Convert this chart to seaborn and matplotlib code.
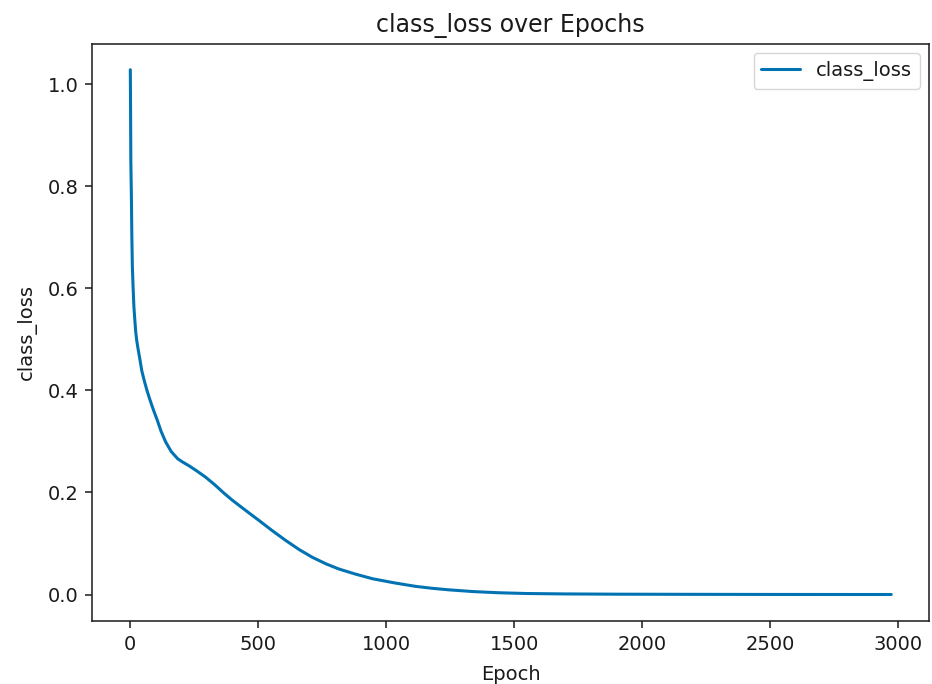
import matplotlib
matplotlib.use("Agg")
import matplotlib.pyplot as plt
import seaborn as sns

# values
epochs = [0, 1, 2, 4, 6, 8, 11, 14, 18, 21, 25, 30, 37, 45, 55, 65, 75, 90,
          105, 120, 138, 160, 185, 203, 230, 260, 294, 330, 365, 398, 450,
          503, 555, 607, 660, 711, 765, 815, 880, 946, 1030, 1115, 1180, 1245,
          1340, 1440, 1550, 1700, 1900, 2200, 2500, 2800, 2973]
class_loss = [1.028, 0.95, 0.85, 0.786, 0.70, 0.642, 0.60, 0.564, 0.535, 0.515,
              0.498, 0.482, 0.462, 0.438, 0.418, 0.400, 0.384, 0.362, 0.342,
              0.320, 0.299, 0.280, 0.266, 0.260, 0.252, 0.242, 0.230, 0.215,
              0.199, 0.185, 0.165, 0.145, 0.125, 0.106, 0.088, 0.073, 0.060,
              0.050, 0.040, 0.031, 0.023, 0.016, 0.0122, 0.0092, 0.0058, 0.0035,
              0.002, 0.0012, 0.0007, 0.0004, 0.0002, 0.0001, 0.0001]

sns.set_style("ticks")
plt.rcParams["font.family"] = ["DejaVu Sans"]
plt.rcParams["axes.edgecolor"] = "#1a1a1a"
plt.rcParams["text.color"] = "#1a1a1a"
plt.rcParams["axes.labelcolor"] = "#1a1a1a"
plt.rcParams["xtick.color"] = "#1a1a1a"
plt.rcParams["ytick.color"] = "#1a1a1a"

fig = plt.figure(figsize=(9.32, 6.84), dpi=100)
ax = fig.add_axes([0.099, 0.0925, 0.8981, 0.8439])

sns.lineplot(x=epochs, y=class_loss, ax=ax, color="#0173b2", linewidth=2.2,
             label="class_loss")

ax.set_title("class_loss over Epochs", fontsize=17, pad=8)
ax.set_xlabel("Epoch", fontsize=14, labelpad=8)
ax.set_ylabel("class_loss", fontsize=14, labelpad=8)
ax.set_xticks([0, 500, 1000, 1500, 2000, 2500, 3000])
ax.set_yticks([0.0, 0.2, 0.4, 0.6, 0.8, 1.0])
ax.tick_params(labelsize=14, length=5, width=1.1, pad=5)
for s in ax.spines.values():
    s.set_linewidth(1.1)

ax.legend(loc="upper right", fontsize=14, frameon=True, edgecolor="#cccccc",
          handlelength=2.0)

fig.savefig("out.png", dpi=100)
